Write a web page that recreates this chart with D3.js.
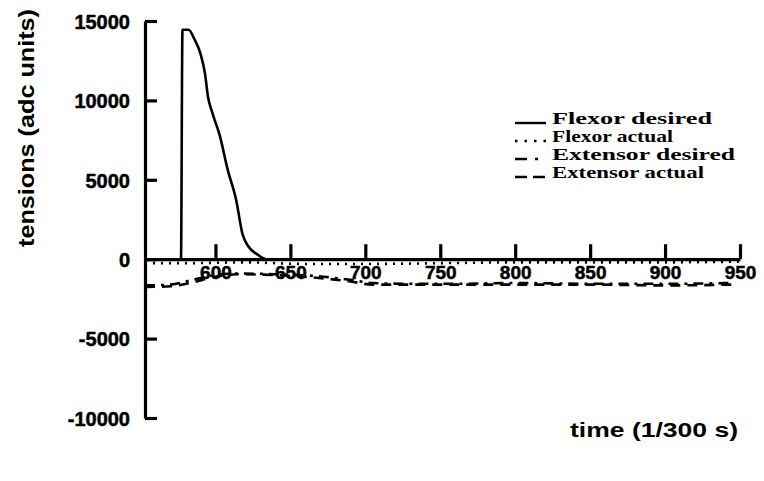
<!DOCTYPE html>
<html>
<head>
<meta charset="utf-8">
<script src="https://cdn.jsdelivr.net/npm/d3@7"></script>
<style>
  html, body { margin: 0; padding: 0; background: #fff; }
  svg { display: block; }
</style>
</head>
<body>
<svg id="chart" width="764" height="481"></svg>
<script>
// Tension traces (adc units) against time in samples of 1/300 s
const flexorDesiredT = [553, 577, 578, 582, 586, 590, 593, 595, 598, 603, 608, 614, 618, 622, 628, 634, 700, 800, 950];
const flexorDesiredV = [0, 0, 14450, 14450, 13850, 12950, 11700, 10250, 9200, 7750, 5700, 3650, 1600, 800, 300, 0, 0, 0, 0];

const flexorActualT = [553, 580, 620, 660, 700, 750, 800, 850, 900, 950];
const flexorActualV = [-250, -250, -200, -300, -300, -250, -200, -200, -200, -150];

const extensorDesiredT = [553, 570, 585, 600, 615, 640, 665, 690, 705, 730, 760, 800, 850, 900, 945];
const extensorDesiredV = [-1650, -1600, -1300, -1000, -900, -950, -1050, -1300, -1500, -1550, -1550, -1500, -1550, -1550, -1500];

const extensorActualT = [553, 570, 585, 600, 615, 640, 665, 690, 705, 730, 760, 800, 850, 900, 945];
const extensorActualV = [-1750, -1700, -1450, -1100, -950, -1000, -1150, -1400, -1600, -1600, -1600, -1600, -1600, -1650, -1600];

const xTicks = [600, 650, 700, 750, 800, 850, 900, 950];
const yTicks = [-10000, -5000, 0, 5000, 10000, 15000];

const legendLabels = ["Flexor desired", "Flexor actual", "Extensor desired", "Extensor actual"];
const legendWidths = [160, 121, 183, 152];

const series = [
  { t: flexorDesiredT, v: flexorDesiredV, dash: null },
  { t: flexorActualT, v: flexorActualV, dash: "2,6" },
  { t: extensorDesiredT, v: extensorDesiredV, dash: "10,6,3,6" },
  { t: extensorActualT, v: extensorActualV, dash: "10,7" }
];
const legendDashes = [null, "2.5,7", "12,8,3,20", "12,6"];

const svg = d3.select("#chart");
const x = d3.scaleLinear().domain([553, 950]).range([145, 740]);
const y = d3.scaleLinear().domain([-10000, 15000]).range([418, 21]);

// Data lines
const line = d3.line().x(d => x(d[0])).y(d => y(d[1])).curve(d3.curveMonotoneX);
series.forEach(s => {
  svg.append("path")
    .datum(s.t.map((t, i) => [t, s.v[i]]))
    .attr("d", line)
    .attr("fill", "none")
    .attr("stroke", "#000")
    .attr("stroke-width", 2.6)
    .attr("stroke-linejoin", "round")
    .attr("stroke-dasharray", s.dash);
});

// Plain integer labels with an ASCII hyphen for negatives
const plain = d => String(d);

// Y axis with inward ticks
const yAxis = svg.append("g")
  .attr("transform", `translate(${x(553)},0)`)
  .call(d3.axisLeft(y).tickValues(yTicks).tickFormat(plain)
    .tickSize(-12).tickSizeOuter(0).tickPadding(15));

// X axis along zero, ticks pointing up
const xAxis = svg.append("g")
  .attr("transform", `translate(0,${y(0)})`)
  .call(d3.axisBottom(x).tickValues(xTicks).tickFormat(plain)
    .tickSize(-15).tickSizeOuter(0).tickPadding(6));

[yAxis, xAxis].forEach(g => {
  g.select(".domain").attr("stroke", "#000").attr("stroke-width", 3.2);
  g.selectAll(".tick line").attr("stroke", "#000").attr("stroke-width", 3.2);
  g.selectAll(".tick text")
    .attr("fill", "#000")
    .style("font-family", "'Liberation Sans', Arial, sans-serif")
    .style("font-weight", "bold")
    .style("stroke", "#000")
    .style("stroke-width", "0.5px");
});
yAxis.selectAll(".tick text").style("font-size", "20px").attr("dy", "0.36em");
xAxis.selectAll(".tick text").style("font-size", "19px");

// Axis titles
svg.append("text")
  .attr("transform", `translate(34,128) rotate(-90)`)
  .attr("text-anchor", "middle")
  .attr("textLength", 238)
  .attr("lengthAdjust", "spacingAndGlyphs")
  .style("font-family", "'Liberation Sans', Arial, sans-serif")
  .style("font-weight", "bold")
  .style("font-size", "22px")
  .text("tensions (adc units)");

svg.append("text")
  .attr("x", 570)
  .attr("y", 437)
  .attr("textLength", 168)
  .attr("lengthAdjust", "spacingAndGlyphs")
  .style("font-family", "'Liberation Sans', Arial, sans-serif")
  .style("font-weight", "bold")
  .style("font-size", "20px")
  .text("time (1/300 s)");

// Legend
const legend = svg.append("g");
legendLabels.forEach((label, i) => {
  const yy = 124 + i * 18;
  legend.append("line")
    .attr("x1", 515).attr("x2", 546)
    .attr("y1", yy - 1).attr("y2", yy - 1)
    .attr("stroke", "#000")
    .attr("stroke-width", 2.4)
    .attr("stroke-dasharray", legendDashes[i]);
  legend.append("text")
    .attr("x", 552)
    .attr("y", yy)
    .attr("textLength", legendWidths[i])
    .attr("lengthAdjust", "spacingAndGlyphs")
    .style("font-family", "'Liberation Serif', 'Times New Roman', serif")
    .style("font-weight", "bold")
    .style("font-size", "17px")
    .text(label);
});
</script>
</body>
</html>
